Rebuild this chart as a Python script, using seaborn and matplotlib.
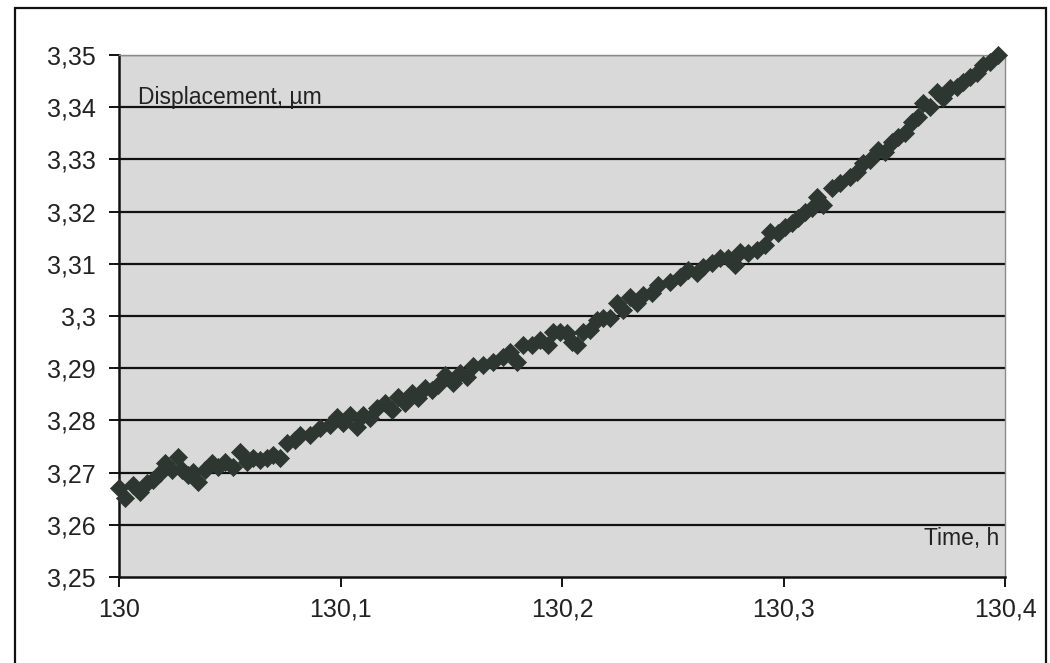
import matplotlib
matplotlib.use("Agg")
import matplotlib.pyplot as plt
from matplotlib.patches import Rectangle
from matplotlib.ticker import FuncFormatter
import seaborn as sns
import pandas as pd

# Creep measurement: displacement of the sample versus elapsed time
time_h = [
    130.0000, 130.0027, 130.0063, 130.0095, 130.0126, 130.0153, 130.0185, 130.0208,
    130.0239, 130.0266, 130.0284, 130.0312, 130.0334, 130.0357, 130.0388, 130.0420,
    130.0447, 130.0479, 130.0515, 130.0546, 130.0578, 130.0605, 130.0637, 130.0668,
    130.0695, 130.0727, 130.0758, 130.0795, 130.0817, 130.0862, 130.0907, 130.0953,
    130.0984, 130.1011, 130.1043, 130.1074, 130.1102, 130.1133, 130.1165, 130.1201,
    130.1233, 130.1260, 130.1291, 130.1323, 130.1350, 130.1381, 130.1413, 130.1440,
    130.1472, 130.1508, 130.1540, 130.1571, 130.1598, 130.1643, 130.1688, 130.1734,
    130.1765, 130.1797, 130.1824, 130.1865, 130.1901, 130.1937, 130.1959, 130.1991,
    130.2023, 130.2045, 130.2068, 130.2095, 130.2126, 130.2158, 130.2185, 130.2217,
    130.2248, 130.2275, 130.2307, 130.2339, 130.2366, 130.2406, 130.2433, 130.2488,
    130.2533, 130.2569, 130.2609, 130.2637, 130.2677, 130.2713, 130.2749, 130.2781,
    130.2804, 130.2840, 130.2880, 130.2916, 130.2939, 130.2975, 130.3007, 130.3038,
    130.3065, 130.3097, 130.3129, 130.3151, 130.3178, 130.3219, 130.3255, 130.3300,
    130.3332, 130.3359, 130.3391, 130.3427, 130.3458, 130.3490, 130.3517, 130.3549,
    130.3580, 130.3607, 130.3630, 130.3661, 130.3693, 130.3720, 130.3752, 130.3783,
    130.3810, 130.3842, 130.3874, 130.3901, 130.3932, 130.3968,
]
displacement_um = [
    3.2670, 3.2651, 3.2676, 3.2663, 3.2680, 3.2686, 3.2699, 3.2718,
    3.2705, 3.2730, 3.2705, 3.2695, 3.2701, 3.2682, 3.2705, 3.2718,
    3.2711, 3.2720, 3.2711, 3.2739, 3.2720, 3.2728, 3.2724, 3.2728,
    3.2734, 3.2728, 3.2757, 3.2762, 3.2772, 3.2772, 3.2785, 3.2791,
    3.2807, 3.2795, 3.2810, 3.2787, 3.2810, 3.2805, 3.2824, 3.2833,
    3.2820, 3.2845, 3.2833, 3.2852, 3.2843, 3.2862, 3.2858, 3.2868,
    3.2887, 3.2872, 3.2891, 3.2883, 3.2904, 3.2906, 3.2912, 3.2921,
    3.2931, 3.2912, 3.2944, 3.2944, 3.2954, 3.2944, 3.2969, 3.2969,
    3.2967, 3.2950, 3.2944, 3.2969, 3.2973, 3.2992, 3.2996, 3.2996,
    3.3025, 3.3011, 3.3036, 3.3025, 3.3040, 3.3044, 3.3059, 3.3065,
    3.3075, 3.3088, 3.3082, 3.3094, 3.3102, 3.3111, 3.3111, 3.3098,
    3.3123, 3.3121, 3.3126, 3.3136, 3.3161, 3.3159, 3.3171, 3.3178,
    3.3188, 3.3199, 3.3207, 3.3228, 3.3213, 3.3245, 3.3255, 3.3266,
    3.3276, 3.3293, 3.3299, 3.3318, 3.3314, 3.3333, 3.3343, 3.3351,
    3.3372, 3.3381, 3.3408, 3.3400, 3.3429, 3.3418, 3.3437, 3.3439,
    3.3448, 3.3458, 3.3466, 3.3481, 3.3487, 3.3500,
]

x_ticks = [130.0, 130.1, 130.2, 130.3, 130.4]
y_ticks = [3.25, 3.26, 3.27, 3.28, 3.29, 3.30, 3.31, 3.32, 3.33, 3.34, 3.35]

df = pd.DataFrame({"time": time_h, "disp": displacement_um})

sns.set_theme(style="white")
plt.rcParams["font.family"] = ["Liberation Sans", "DejaVu Sans"]

fig = plt.figure(figsize=(10.5, 6.63), dpi=100)
fig.patch.set_facecolor("white")
ax = fig.add_axes([119 / 1050, 1 - 577 / 663, (1005 - 119) / 1050, (577 - 55) / 663])
ax.set_facecolor("#d9d9d9")

# outer chart frame
fig.patches.append(Rectangle((15 / 1050, -0.02), (1046 - 15) / 1050, 1 - 8 / 663 + 0.02,
                             transform=fig.transFigure, fill=False,
                             edgecolor="#111111", linewidth=1.6, zorder=0))

for yv in y_ticks[1:]:
    ax.axhline(yv, color="#111111", linewidth=1.6, zorder=1)

sns.scatterplot(data=df, x="time", y="disp", marker="D", s=85, color="#2d3631",
                edgecolor="#2d3631", linewidth=0.5, ax=ax, zorder=3, clip_on=False,
                legend=False)

ax.set_xlim(130.0, 130.4)
ax.set_ylim(3.25, 3.35)
ax.set_xticks(x_ticks)
ax.set_yticks(y_ticks)


def comma_fmt(v, _pos):
    s = f"{v:.4f}".rstrip("0").rstrip(".")
    return s.replace(".", ",")


ax.xaxis.set_major_formatter(FuncFormatter(comma_fmt))
ax.yaxis.set_major_formatter(FuncFormatter(comma_fmt))

ax.tick_params(axis="both", which="major", direction="out", length=7, width=1.4,
               color="#111111", labelsize=18, labelcolor="#222222")
ax.tick_params(axis="y", pad=10)
ax.tick_params(axis="x", pad=8)
ax.tick_params(left=True, bottom=True)

for side in ("left", "bottom"):
    ax.spines[side].set_color("#111111")
    ax.spines[side].set_linewidth(1.8)
for side in ("top", "right"):
    ax.spines[side].set_color("#8a8a8a")
    ax.spines[side].set_linewidth(1.0)

ax.set_xlabel("")
ax.set_ylabel("")
ax.text(0.021, 3.3419, "Displacement, µm", transform=ax.get_yaxis_transform(),
        fontsize=16.5, color="#222222", va="center", ha="left")
ax.text(0.994, 3.2574, "Time, h", transform=ax.get_yaxis_transform(),
        fontsize=16.5, color="#222222", va="center", ha="right")

fig.savefig("out.png", dpi=100, facecolor="white")
